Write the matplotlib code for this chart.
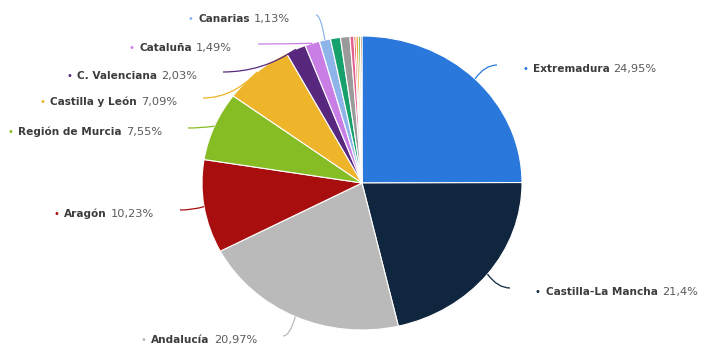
import matplotlib
matplotlib.use("Agg")
import matplotlib.pyplot as plt
from matplotlib.path import Path
from matplotlib.patches import PathPatch
import numpy as np

# datos: % por comunidad (las porciones pequeñas sin etiqueta)
regiones = ["Extremadura", "Castilla-La Mancha", "Andalucía", "Aragón",
            "Región de Murcia", "Castilla y León", "C. Valenciana", "Cataluña",
            "Canarias", "", "", "", "", "", "", ""]
porcentajes = [24.95, 21.4, 20.97, 10.23, 7.55, 7.09, 2.03, 1.49, 1.13,
               1.0, 0.95, 0.4, 0.2, 0.25, 0.2, 0.16]
colores = ["#2a78dc", "#10263e", "#bababa", "#a80e0e", "#86bc24", "#eeb42a",
           "#58287e", "#c97ee6", "#8eb4ea", "#16a06c", "#9a9a9a", "#e2628c",
           "#d23434", "#f0a030", "#62b024", "#a0522d"]

# posicion (px) del final de cada conector y lado de la etiqueta
conector_fin = [(497, 65), (510, 288), (283, 336), (180, 210), (188, 128),
                (203, 98), (223, 72), (258, 44), (316, 15)]
lado = ["der", "der", "izq", "izq", "izq", "izq", "izq", "izq", "izq"]

W, H = 705, 347
cx, cy, rx, ry = 362, 183, 160, 147


def px(x, y):
    return (x - cx) / rx, (cy - y) / ry


fig = plt.figure(figsize=(W / 100, H / 100), dpi=100)
ax = fig.add_axes([0, 0, 1, 1])
wedges, _ = ax.pie(porcentajes, colors=colores, startangle=90, counterclock=False,
                   radius=1, center=(0, 0),
                   wedgeprops=dict(edgecolor="white", linewidth=0.8))
ax.set_aspect("auto")
ax.set_xlim((0 - cx) / rx, (W - cx) / rx)
ax.set_ylim((cy - H) / ry, cy / ry)
ax.axis("off")

renderer = fig.canvas.get_renderer()
fs = 8.2

for i, (nombre, v) in enumerate(zip(regiones, porcentajes)):
    if not nombre:
        continue
    w = wedges[i]
    ang = np.deg2rad((w.theta1 + w.theta2) / 2)
    sx, sy = np.cos(ang), np.sin(ang)
    ex, ey = px(*conector_fin[i])
    c = (sx + 0.45 * (ex - sx), ey)
    path = Path([(ex, ey), c, (sx, sy)], [Path.MOVETO, Path.CURVE3, Path.CURVE3])
    ax.add_patch(PathPatch(path, facecolor="none", edgecolor=colores[i], lw=0.9))

    # etiqueta: bullet + nombre en negrita + valor
    ty = ey - 4 / ry
    valor = f"{v:g}".replace(".", ",") + "%"
    partes = [("•", dict(color=colores[i], fontsize=fs - 1)),
              (nombre, dict(color="#3c3c3c", fontsize=fs - 0.6, fontweight="bold")),
              (valor, dict(color="#5a5a5a", fontsize=fs))]
    huecos = [5, 4, 0]
    anchos = []
    for txt, kw in partes:
        t = ax.text(0, 0, txt, **kw)
        anchos.append(t.get_window_extent(renderer).width)
        t.remove()
    total = sum(anchos) + sum(huecos)
    if lado[i] == "der":
        x0 = conector_fin[i][0] + 25
    else:
        x0 = conector_fin[i][0] - 26 - total
    for (txt, kw), a, g in zip(partes, anchos, huecos):
        ax.text(px(x0, 0)[0], ty, txt, ha="left", va="center", **kw)
        x0 += a + g

fig.savefig("out.png", dpi=100, facecolor="white")
